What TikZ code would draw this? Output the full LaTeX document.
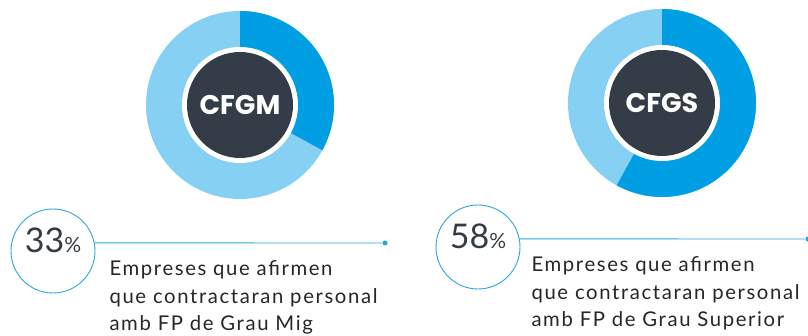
\documentclass[tikz,border=0pt]{standalone}
\usepackage{fontspec}
\setmainfont{Lato}
\newfontfamily\hubfont{Poppins}
\newfontfamily\capfont[LetterSpace=8]{Lato}
\usepackage{tikz}

\definecolor{darkblue}{HTML}{009FE3}
\definecolor{lightblue}{HTML}{86D0F3}
\definecolor{slate}{HTML}{343D47}
\definecolor{lineblue}{HTML}{2AA5DE}

\tikzset{
  hub/.style={circle, fill=slate, minimum size=106pt, inner sep=0pt, text=white, font=\hubfont\bfseries\fontsize{27}{27}\selectfont},
  pct/.style={circle, draw=lineblue, line width=0.9pt, minimum size=84pt, inner sep=0pt, text height=23pt, text depth=19pt, text=slate},
  caption/.style={anchor=base west, align=left, text=black!85, font=\capfont\fontsize{20.3}{27.5}\selectfont},
  tip/.style={circle, fill=lineblue, inner sep=0pt, minimum size=5pt}
}

\begin{document}
\begin{tikzpicture}[x=1pt, y=1pt]
\useasboundingbox (0,0) rectangle (808,336);

\fill [lightblue] (240,231) circle (94pt);
\fill [darkblue] (240,231) -- ++(90:94pt) arc (90:-28.8:94pt) -- cycle;
\fill [white] (240,231) circle (58pt);
\node [hub] (gm) at (240,231) {CFGM};

\fill [lightblue] (662,233) circle (94pt);
\fill [darkblue] (662,233) -- ++(90:94pt) arc (90:-118.8:94pt) -- cycle;
\fill [white] (662,233) circle (58pt);
\node [hub] (gs) at (662,233) {CFGS};

\node [pct] (pgm) at (53,85) {\fontsize{34}{34}\selectfont 33\fontsize{21}{21}\selectfont\%};
\node [tip] (dotgm) at (385,93) {};
\draw [lineblue, line width=0.9pt] (pgm.11) -- (dotgm);
\node [caption] (txtgm) at (106,5) {Empreses que afirmen\\que contractaran personal\\amb FP de Grau Mig};

\node [pct] (pgs) at (478,89) {\fontsize{34}{34}\selectfont 58\fontsize{21}{21}\selectfont\%};
\node [tip] (dotgs) at (808,97) {};
\draw [lineblue, line width=0.9pt] (pgs.11) -- (dotgs);
\node [caption] (txtgs) at (528,9) {Empreses que afirmen\\que contractaran personal\\amb FP de Grau Superior};

\end{tikzpicture}
\end{document}
